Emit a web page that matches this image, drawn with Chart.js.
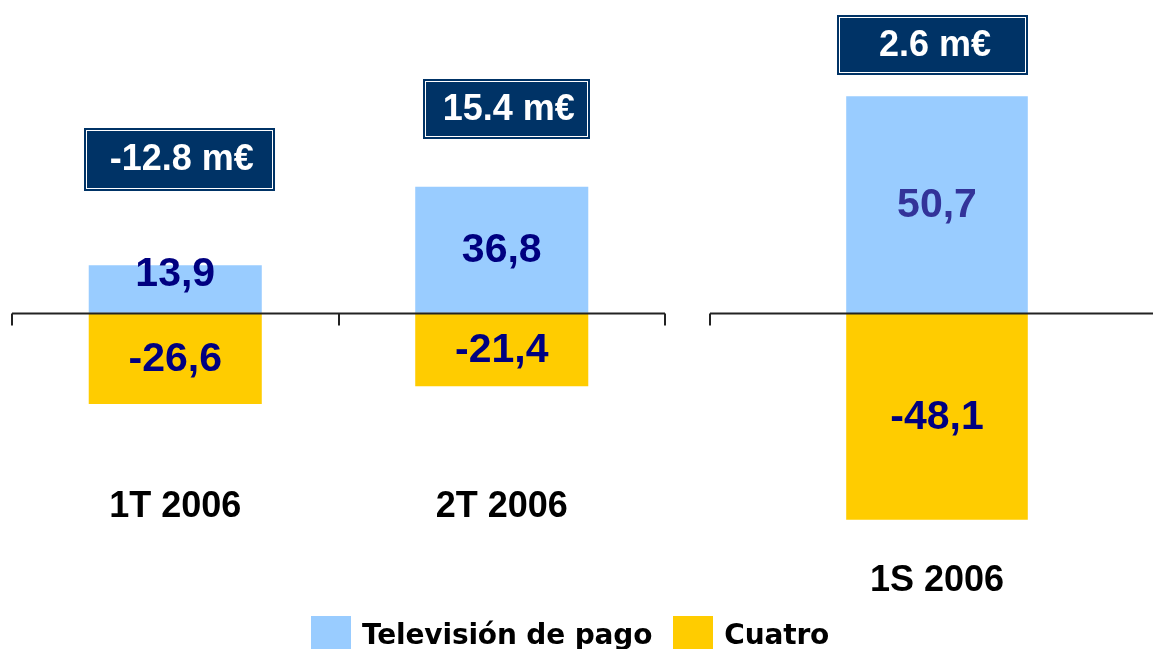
<!DOCTYPE html>
<html>
<head>
<meta charset="utf-8">
<script src="https://cdn.jsdelivr.net/npm/chart.js@4.4.0/dist/chart.umd.min.js"></script>
<style>
  html, body { margin: 0; padding: 0; background: #fff; overflow: hidden; }
  body { width: 1153px; height: 649px; position: relative; }
  #leftBox { position: absolute; left: 0; top: 0; width: 690px; height: 649px; }
  #rightBox { position: absolute; left: 690px; top: 0; width: 490px; height: 649px; }
  .legend { position: absolute; left: 311px; top: 616px; display: flex; align-items: flex-start;
            font-family: "DejaVu Sans", Verdana, sans-serif; font-weight: bold; font-size: 28px;
            letter-spacing: -0.15px; color: #000; }
  .legend .sw { width: 40px; height: 40px; margin-right: 11px; }
  .legend .txt { margin-top: 2px; margin-right: 21px; white-space: nowrap; }
</style>
</head>
<body>
<div id="leftBox"><canvas id="quarterChart" width="690" height="649"></canvas></div>
<div id="rightBox"><canvas id="semesterChart" width="490" height="649"></canvas></div>
<div class="legend">
  <div class="sw" style="background:#99CCFF"></div><div class="txt">Televisión de pago</div>
  <div class="sw" style="background:#FFCC00"></div><div class="txt">Cuatro</div>
</div>
<script>
// Quarterly data
const quarterLabels = ['1T 2006', '2T 2006'];
const payTvQuarter = [13.9, 36.8];
const cuatroQuarter = [-26.6, -21.4];
const resultQuarter = ['-12.8 m€', '15.4 m€'];

// Half-year data
const semesterLabels = ['1S 2006'];
const payTvSemester = [50.7];
const cuatroSemester = [-48.1];
const resultSemester = ['2.6 m€'];

const PAY_TV = '#99CCFF';
const CUATRO = '#FFCC00';
const NAVY = '#003366';
const FONT = '"Liberation Sans", Arial, sans-serif';

const fmt = v => v.toFixed(1).replace('.', ',');

// zero line with tick marks at the category borders
const zeroLinePlugin = {
    id: 'zeroLine',
    afterDatasetsDraw(chart) {
        const { ctx, chartArea, scales } = chart;
        const y0 = Math.round(scales.y.getPixelForValue(0)) + 0.5;
        const n = chart.data.labels.length;
        const step = (chartArea.right - chartArea.left) / n;
        ctx.save();
        ctx.strokeStyle = '#222';
        ctx.lineWidth = 2;
        ctx.beginPath();
        ctx.moveTo(chartArea.left, y0);
        ctx.lineTo(chartArea.right, y0);
        for (let i = 0; i <= n; i++) {
            const x = Math.round(chartArea.left + i * step);
            ctx.moveTo(x, y0);
            ctx.lineTo(x, y0 + 12);
        }
        ctx.stroke();
        ctx.restore();
    }
};

// values written inside the bars
const valueLabelPlugin = {
    id: 'valueLabels',
    afterDatasetsDraw(chart, args, opts) {
        const { ctx } = chart;
        ctx.save();
        ctx.font = 'bold 41px ' + FONT;
        ctx.textAlign = 'center';
        ctx.textBaseline = 'middle';
        chart.data.datasets.forEach((ds, di) => {
            chart.getDatasetMeta(di).data.forEach((bar, i) => {
                const top = Math.min(bar.y, bar.base);
                const h = Math.abs(bar.base - bar.y);
                const y = h < 60 ? top + 9 : top + h / 2;
                ctx.fillStyle = (opts.colors && opts.colors[di]) || '#000080';
                ctx.fillText(fmt(ds.data[i]), bar.x, y + 1);
            });
        });
        ctx.restore();
    }
};

// dark result boxes above each bar
const resultBoxPlugin = {
    id: 'resultBoxes',
    afterDatasetsDraw(chart, args, opts) {
        const { ctx, scales } = chart;
        ctx.save();
        opts.texts.forEach((t, i) => {
            const b = opts.boxes[i];
            const cx = scales.x.getPixelForValue(i) + b.dx;
            const x = Math.round(cx - b.w / 2) + 0.5;
            const y = b.top + 0.5;
            ctx.fillStyle = NAVY;
            ctx.fillRect(x, y, b.w, b.h);
            ctx.strokeStyle = NAVY;
            ctx.lineWidth = 1;
            ctx.strokeRect(x, y, b.w, b.h);
            ctx.strokeStyle = '#ffffff';
            ctx.lineWidth = 1;
            ctx.strokeRect(x + 2, y + 2, b.w - 4, b.h - 4);
            ctx.fillStyle = '#ffffff';
            ctx.font = 'bold 36px ' + FONT;
            ctx.textAlign = 'center';
            ctx.textBaseline = 'middle';
            ctx.fillText(t, cx + 3, y + b.h / 2 + 1);
        });
        ctx.restore();
    }
};

function makeChart(id, labels, payTv, cuatro, texts, cfg) {
    const ctx = document.getElementById(id).getContext('2d');
    return new Chart(ctx, {
        type: 'bar',
        data: {
            labels: labels,
            datasets: [
                { label: 'Televisión de pago', data: payTv, backgroundColor: PAY_TV, borderWidth: 0 },
                { label: 'Cuatro', data: cuatro, backgroundColor: CUATRO, borderWidth: 0 }
            ]
        },
        options: {
            responsive: false,
            animation: false,
            layout: { padding: cfg.padding },
            plugins: {
                legend: { display: false },
                tooltip: { enabled: false },
                valueLabels: { colors: cfg.labelColors },
                resultBoxes: { texts: texts, boxes: cfg.boxes }
            },
            datasets: { bar: { categoryPercentage: 1, barPercentage: cfg.barPct } },
            scales: {
                x: {
                    stacked: true,
                    grid: { display: false, drawTicks: false },
                    border: { display: false },
                    ticks: { color: '#000', padding: 6, font: { family: FONT, size: 36, weight: 'bold' } }
                },
                y: {
                    stacked: true,
                    display: false,
                    min: cfg.min,
                    max: cfg.max
                }
            }
        },
        plugins: [zeroLinePlugin, valueLabelPlugin, resultBoxPlugin]
    });
}

makeChart('quarterChart', quarterLabels, payTvQuarter, cuatroQuarter, resultQuarter, {
    padding: { left: 12, right: 25, top: 0, bottom: 114 },
    barPct: 0.53,
    min: -48.7,
    max: 91.25,
    labelColors: ['#000080', '#000080'],
    boxes: [
        { dx: 3.5, top: 128, w: 190, h: 62 },
        { dx: 4, top: 79, w: 166, h: 59 }
    ]
});

makeChart('semesterChart', semesterLabels, payTvSemester, cuatroSemester, resultSemester, {
    padding: { left: 20, right: 16, top: 0, bottom: 40 },
    barPct: 0.40,
    min: -56.07,
    max: 73.13,
    labelColors: ['#333399', '#000080'],
    boxes: [
        { dx: -5, top: 15, w: 190, h: 59 }
    ]
});
</script>
</body>
</html>
